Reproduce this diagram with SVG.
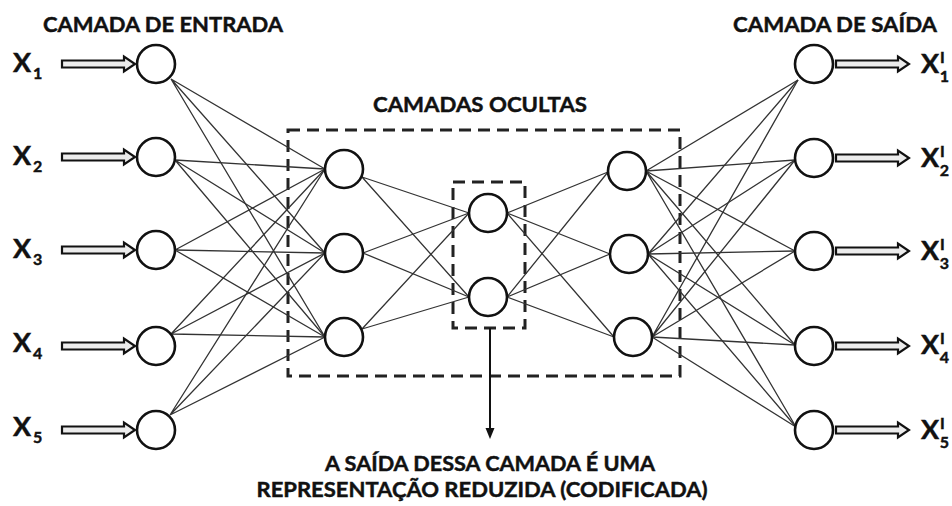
<svg xmlns="http://www.w3.org/2000/svg" width="952" height="506" viewBox="0 0 952 506">
<style>
.t{font-family:Lato,"Liberation Sans",sans-serif;font-weight:bold;fill:#111;stroke:#111;stroke-width:0.45;}
.h{font-size:21px;}
.x{font-size:27px;}
.s{font-size:16px;}
.node{fill:#fff;stroke:#111;stroke-width:2.6;}
.ln{stroke:#333;stroke-width:1.3;fill:none;}
.box{fill:none;stroke:#222;stroke-width:3;stroke-dasharray:12 7;}
.arr{fill:#ececec;stroke:#111;stroke-width:2.2;stroke-linejoin:miter;}
</style>
<defs>
<path id="dbl" class="arr" d="M0,-3.5 H62 V-7.5 L73,0 L62,7.5 V3.5 H0 Z"/>
</defs>
<rect width="952" height="506" fill="#fff"/>

<!-- titles -->
<text class="t h" x="163" y="32" text-anchor="middle" textLength="240" lengthAdjust="spacingAndGlyphs">CAMADA DE ENTRADA</text>
<text class="t h" x="835" y="32" text-anchor="middle" textLength="204" lengthAdjust="spacingAndGlyphs">CAMADA DE SAÍDA</text>
<text class="t h" x="480" y="112" text-anchor="middle" textLength="214" lengthAdjust="spacingAndGlyphs">CAMADAS OCULTAS</text>
<text class="t h" x="490" y="471" text-anchor="middle" textLength="330" lengthAdjust="spacingAndGlyphs">A SAÍDA DESSA CAMADA É UMA</text>
<text class="t h" x="482" y="497" text-anchor="middle" textLength="451" lengthAdjust="spacingAndGlyphs">REPRESENTAÇÃO REDUZIDA (CODIFICADA)</text>

<!-- dashed boxes -->
<rect class="box" x="288" y="130" width="392" height="246"/>
<rect class="box" x="453" y="182" width="72" height="146"/>

<!-- connectors -->
<g id="connectors">
<g class="ln">
<!-- input -> hidden1 -->
<path d="M171,79 L325,169 M171,79 L325,253 M171,79 L325,337"/>
<path d="M175,160 L325,169 M175,160 L325,253 M175,160 L325,337"/>
<path d="M175,250 L325,169 M175,250 L325,253 M175,250 L325,337"/>
<path d="M171,334 L325,169 M171,334 L325,253 M171,334 L325,337"/>
<path d="M170,415 L325,169 M170,415 L325,253 M170,415 L325,337"/>
<!-- hidden1 -> middle -->
<path d="M362,177 L469,213 M362,177 L469,297"/>
<path d="M363,253 L469,213 M363,253 L469,297"/>
<path d="M362,329 L469,213 M362,329 L469,297"/>
<!-- middle -> hidden3 -->
<path d="M507,213 L608,172 M507,213 L610,254 M507,213 L614,337"/>
<path d="M507,297 L608,172 M507,297 L610,254 M507,297 L614,337"/>
<!-- hidden3 -> output -->
<path d="M646,171 L798,80 M646,171 L795,160 M646,171 L795,251 M646,171 L795,345 M646,171 L796,427"/>
<path d="M648,254 L798,80 M648,254 L795,160 M648,254 L795,251 M648,254 L795,345 M648,254 L796,427"/>
<path d="M652,337 L798,80 M652,337 L795,160 M652,337 L795,251 M652,337 L795,345 M652,337 L796,427"/>
</g>
<!-- input arrows -->
<use href="#dbl" transform="translate(62,64)"/>
<use href="#dbl" transform="translate(62,157)"/>
<use href="#dbl" transform="translate(62,250)"/>
<use href="#dbl" transform="translate(62,346)"/>
<use href="#dbl" transform="translate(62,430)"/>
<!-- output arrows -->
<use href="#dbl" transform="translate(836,64)"/>
<use href="#dbl" transform="translate(836,158)"/>
<use href="#dbl" transform="translate(836,251)"/>
<use href="#dbl" transform="translate(836,346)"/>
<use href="#dbl" transform="translate(836,430)"/>
<!-- pointer arrow -->
<line x1="490" y1="328" x2="490" y2="430" stroke="#111" stroke-width="2"/>
<polygon points="485.5,428 494.5,428 490,439" fill="#111"/>
</g>

<!-- input nodes -->
<g id="in1"><circle class="node" cx="156" cy="64" r="19"/><text class="t x" x="13" y="72">X<tspan class="s" dy="7" dx="2">1</tspan></text></g>
<g id="in2"><circle class="node" cx="156" cy="157" r="19"/><text class="t x" x="13" y="165">X<tspan class="s" dy="7" dx="2">2</tspan></text></g>
<g id="in3"><circle class="node" cx="156" cy="250" r="19"/><text class="t x" x="13" y="258">X<tspan class="s" dy="7" dx="2">3</tspan></text></g>
<g id="in4"><circle class="node" cx="156" cy="346" r="19"/><text class="t x" x="13" y="352">X<tspan class="s" dy="7" dx="2">4</tspan></text></g>
<g id="in5"><circle class="node" cx="156" cy="430" r="19"/><text class="t x" x="13" y="436">X<tspan class="s" dy="7" dx="2">5</tspan></text></g>

<!-- hidden layer 1 -->
<g id="h1"><circle class="node" cx="344" cy="169" r="19"/></g>
<g id="h2"><circle class="node" cx="344" cy="253" r="19"/></g>
<g id="h3"><circle class="node" cx="344" cy="337" r="19"/></g>

<!-- code layer -->
<g id="m1"><circle class="node" cx="488" cy="213" r="19"/></g>
<g id="m2"><circle class="node" cx="488" cy="297" r="19"/></g>

<!-- hidden layer 3 -->
<g id="r1"><circle class="node" cx="627" cy="171" r="19"/></g>
<g id="r2"><circle class="node" cx="629" cy="254" r="19"/></g>
<g id="r3"><circle class="node" cx="633" cy="337" r="19"/></g>

<!-- output nodes -->
<g id="out1"><circle class="node" cx="814" cy="64" r="19"/><text class="t x" x="921" y="73">X<tspan class="s" dx="1" dy="-10" font-size="12">I</tspan><tspan class="s" dx="-5" dy="19">1</tspan></text></g>
<g id="out2"><circle class="node" cx="814" cy="158" r="19"/><text class="t x" x="921" y="167">X<tspan class="s" dx="1" dy="-10" font-size="12">I</tspan><tspan class="s" dx="-5" dy="19">2</tspan></text></g>
<g id="out3"><circle class="node" cx="814" cy="251" r="19"/><text class="t x" x="921" y="260">X<tspan class="s" dx="1" dy="-10" font-size="12">I</tspan><tspan class="s" dx="-5" dy="19">3</tspan></text></g>
<g id="out4"><circle class="node" cx="814" cy="346" r="19"/><text class="t x" x="921" y="354">X<tspan class="s" dx="1" dy="-10" font-size="12">I</tspan><tspan class="s" dx="-5" dy="19">4</tspan></text></g>
<g id="out5"><circle class="node" cx="814" cy="430" r="19"/><text class="t x" x="921" y="439">X<tspan class="s" dx="1" dy="-10" font-size="12">I</tspan><tspan class="s" dx="-5" dy="19">5</tspan></text></g>
</svg>
